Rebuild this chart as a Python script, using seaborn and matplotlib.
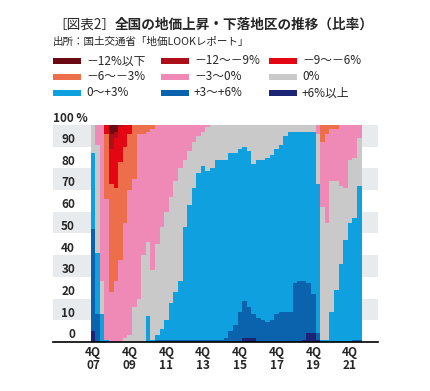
import numpy as np
import matplotlib
matplotlib.use("Agg")
import matplotlib.pyplot as plt
from matplotlib.patches import Rectangle
import seaborn as sns

# quarterly share (%) of districts by price change, 4Q07 .. 2Q22
plus6 = [5, 0, 0, 0, 0, 0, 0, 0, 0, 0, 0, 0, 0, 0, 0, 0, 0, 0, 0, 0,
         0, 0, 0, 0, 0, 0, 0, 0, 0, 0, 0, 0, 0, 2, 2, 2, 0, 0, 0, 0,
         0, 0, 0, 0, 0, 0, 1, 4, 4, 1, 0, 0, 0, 0, 0, 0, 0, 0, 0]
plus3_6 = [47, 13, 0, 0, 0, 0, 0, 0, 0, 0, 0, 0, 0, 0, 1, 1, 1, 1, 1, 1,
           1, 1, 1, 1, 1, 1, 1, 1, 1, 2, 5, 8, 14, 17, 14, 11, 11, 10, 9, 10,
           13, 14, 14, 14, 27, 28, 27, 23, 18, 3, 0, 0, 0, 0, 0, 0, 0, 1, 1]
plus0_3 = [35, 28, 13, 1, 0, 0, 0, 0, 0, 0, 0, 0, 12, 1, 2, 5, 9, 17, 22, 27,
           52, 62, 70, 77, 80, 78, 79, 83, 83, 82, 82, 79, 75, 71, 72, 69, 73, 74, 76, 76,
           76, 77, 81, 83, 70, 69, 69, 70, 75, 69, 1, 1, 14, 24, 36, 47, 55, 56, 71]
flat = [13, 50, 15, 0, 0, 0, 0, 2, 3, 16, 20, 40, 34, 32, 42, 47, 50, 49, 51, 52,
        31, 25, 21, 17, 16, 20, 20, 16, 16, 16, 13, 13, 11, 10, 12, 18, 16, 16, 15, 14,
        11, 9, 5, 3, 3, 3, 3, 3, 3, 23, 61, 54, 60, 50, 36, 24, 29, 28, 22]
minus0_3 = [0, 9, 72, 65, 23, 28, 38, 53, 67, 59, 76, 56, 51, 65, 55, 47, 40, 33, 26, 20,
            16, 12, 8, 5, 3, 1, 0, 0, 0, 0, 0, 0, 0, 0, 0, 0, 0, 0, 0, 0,
            0, 0, 0, 0, 0, 0, 0, 0, 0, 4, 30, 41, 24, 24, 28, 29, 16, 15, 6]
minus3_6 = [0, 0, 0, 30, 50, 43, 45, 35, 26, 25, 4, 4, 3, 2, 0, 0, 0, 0, 0, 0,
            0, 0, 0, 0, 0, 0, 0, 0, 0, 0, 0, 0, 0, 0, 0, 0, 0, 0, 0, 0,
            0, 0, 0, 0, 0, 0, 0, 0, 0, 0, 8, 4, 2, 2, 0, 0, 0, 0, 0]
minus6_9 = [0, 0, 0, 4, 16, 23, 16, 10, 4] + [0] * 50
minus9_12 = [0, 0, 0, 0, 7, 3, 1] + [0] * 52
minus12 = [0, 0, 0, 0, 4, 3] + [0] * 53

series = [plus6, plus3_6, plus0_3, flat, minus0_3, minus3_6, minus6_9, minus9_12, minus12]
colors = ["#1c2475", "#0b63ae", "#0ea0df", "#c9c9c9", "#ef8ab6",
          "#ec6e4a", "#e50613", "#ad0f19", "#6c0a13"]

legend_labels = ["－12%以下", "－12〜－9%", "－9〜－6%",
                 "－6〜－3%", "－3〜0%", "0%",
                 "0〜+3%", "+3〜+6%", "+6%以上"]
legend_colors = ["#6c0a13", "#ad0f19", "#e50613",
                 "#ec6e4a", "#ef8ab6", "#c9c9c9",
                 "#0ea0df", "#0b63ae", "#1c2475"]

tick_labels = ["4Q\n07", "4Q\n09", "4Q\n11", "4Q\n13", "4Q\n15", "4Q\n17", "4Q\n19", "4Q\n21"]
y_labels = [0, 10, 20, 30, 40, 50, 60, 70, 80, 90]

sns.set_style("white")
plt.rcParams['font.family'] = ['Noto Sans CJK JP', 'DejaVu Sans']

W, H = 430, 391
fig = plt.figure(figsize=(W / 100, H / 100), dpi=100)
ax = fig.add_axes([53 / W, 1 - 342 / H, 325 / W, 217 / H])

n = len(plus6)
x = np.arange(n + 1)
layers = [np.append(s, s[-1]) for s in series]

# grey bands behind the plot
for lo in range(10, 100, 20):
    ax.axhspan(lo, lo + 10, color="#e8ebee", lw=0, zorder=0)

ax.stackplot(x, *layers, colors=colors, step="post", linewidth=0, zorder=2)

px = 4.59  # pixels per quarter
x0 = 90.7
ax.set_xlim((53 - x0) / px, (378 - x0) / px)
ax.set_ylim(0, 100)

ax.set_xticks(np.arange(0, n, 8) + 0.5)
ax.set_xticklabels(tick_labels, fontsize=8.5, fontweight="bold", linespacing=0.95)
ax.tick_params(axis="x", length=0, pad=3)
ax.set_yticks([])

sns.despine(ax=ax, left=True, top=True, right=True)
ax.spines["bottom"].set_color("black")
ax.spines["bottom"].set_linewidth(1.2)
ax.spines["bottom"].set_zorder(5)

lab_x = (75 - x0) / px
for v in y_labels:
    ax.text(lab_x, v + 3.3, str(v), ha="right", va="center", fontsize=8.5,
            fontweight="bold", clip_on=False, zorder=6)
ax.text((53 - x0) / px, 103, "100 %", ha="left", va="center", fontsize=8.5,
        fontweight="bold", clip_on=False, zorder=6)

# title
t1 = fig.text(53 / W, 1 - 25 / H, "［図表2］", fontsize=9.8, va="center", ha="left")
renderer = fig.canvas.get_renderer()
bb = t1.get_window_extent(renderer)
fig.text(bb.x1 / W, 1 - 25 / H, "全国の地価上昇・下落地区の推移（比率）",
         fontsize=9.8, fontweight="bold", va="center", ha="left")
fig.text(53 / W, 1 - 42 / H, "出所：国土交通省「地価LOOKレポート」",
         fontsize=7.6, va="center", ha="left")

# legend (3 columns)
col_x = [53, 161, 269]
row_y = [61, 77, 93]
for i, (lab, c) in enumerate(zip(legend_labels, legend_colors)):
    cx = col_x[i % 3]
    cy = row_y[i // 3]
    fig.patches.append(Rectangle((cx / W, 1 - (cy + 3) / H), 28 / W, 6 / H,
                                 transform=fig.transFigure, color=c, lw=0))
    fig.text((cx + 33) / W, 1 - cy / H, lab, fontsize=8.5, va="center", ha="left")

fig.savefig("out.png", dpi=100)
